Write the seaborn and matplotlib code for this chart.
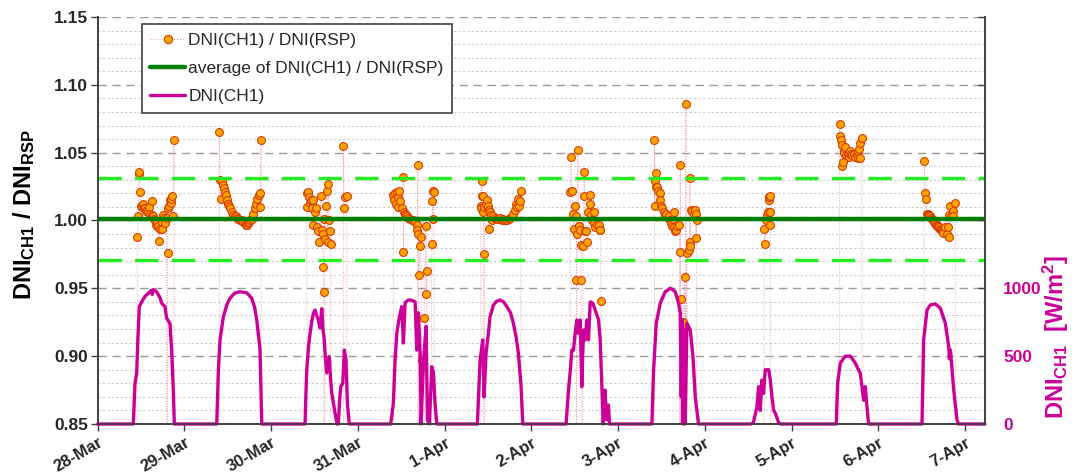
import numpy as np
import pandas as pd
import seaborn as sns
import matplotlib
matplotlib.use("Agg")
import matplotlib.pyplot as plt
from matplotlib.ticker import MultipleLocator, FixedLocator, FixedFormatter, FormatStrFormatter
from matplotlib.lines import Line2D

# ---------------- data ----------------
date_labels = ["28-Mar", "29-Mar", "30-Mar", "31-Mar", "1-Apr", "2-Apr",
               "3-Apr", "4-Apr", "5-Apr", "6-Apr", "7-Apr"]

avg_ratio = 1.001
band_upper = 1.031
band_lower = 0.971

# ratio DNI(CH1)/DNI(RSP): (days since 28-Mar 00:00, ratio); 0 = no valid value
ratio_28mar = [(0.455, 0), (0.457, 0.988), (0.470, 1.003), (0.473, 1.034), (0.480, 1.036), (0.488, 1.021),
               (0.495, 1.011), (0.507, 1.010), (0.520, 1.012), (0.530, 1.009), (0.546, 1.009), (0.555, 1.007),
               (0.565, 1.008), (0.580, 1.006), (0.595, 1.010), (0.603, 1.005), (0.623, 1.014), (0.632, 1.004),
               (0.641, 1.003), (0.650, 1.001), (0.661, 1.000), (0.670, 0.997), (0.680, 0.998), (0.690, 0.995),
               (0.699, 0.996), (0.710, 0.985), (0.720, 0.994), (0.738, 0.994), (0.745, 0.999), (0.757, 1.004),
               (0.765, 1.002), (0.776, 0.998), (0.796, 1.002), (0.805, 0), (0.807, 0.976), (0.814, 1.009),
               (0.820, 1.011), (0.834, 1.015), (0.842, 1.013), (0.848, 1.016), (0.853, 1.018), (0.865, 1.003),
               (0.880, 1.059), (0.882, 0)]
ratio_29mar = [(1.401, 0), (1.403, 1.065), (1.411, 1.030), (1.419, 1.016), (1.430, 1.029), (1.442, 1.026),
               (1.457, 1.024), (1.468, 1.021), (1.480, 1.019), (1.488, 1.015), (1.499, 1.012), (1.514, 1.011),
               (1.526, 1.009), (1.546, 1.006), (1.564, 1.004), (1.580, 1.003), (1.595, 1.003), (1.610, 1.002),
               (1.622, 1.001), (1.640, 1.000), (1.661, 1.000), (1.680, 0.999), (1.699, 0.998), (1.715, 0.997),
               (1.726, 0.997), (1.738, 0.998), (1.749, 0.999), (1.762, 1.000), (1.776, 1.001), (1.794, 1.005),
               (1.814, 1.009), (1.826, 1.012), (1.841, 1.016), (1.860, 1.019), (1.872, 1.020), (1.876, 1.010),
               (1.884, 1.059), (1.886, 0)]
ratio_30mar = [(2.409, 0), (2.411, 1.020), (2.418, 1.010), (2.429, 1.021), (2.441, 1.017), (2.449, 1.013),
               (2.457, 1.015), (2.468, 1.009), (2.480, 1.015), (2.487, 0.997), (2.506, 1.006), (2.518, 1.009),
               (2.526, 0.995), (2.544, 0.992), (2.556, 0.984), (2.572, 1.018), (2.584, 0.993), (2.595, 0.990),
               (2.602, 0.966), (2.610, 0.947), (2.612, 0), (2.614, 1.001), (2.622, 0.986), (2.633, 1.011),
               (2.641, 1.022), (2.653, 0.984), (2.660, 1.027), (2.671, 1.000), (2.679, 0.992), (2.687, 0.983),
               (2.689, 0), (2.831, 0), (2.833, 1.055), (2.841, 1.009), (2.852, 1.017), (2.872, 1.018), (2.874, 0)]
ratio_31mar = [(3.407, 0), (3.409, 1.019), (3.420, 1.015), (3.429, 1.020), (3.440, 1.012), (3.449, 1.021),
               (3.458, 1.010), (3.467, 1.017), (3.479, 1.022), (3.487, 1.014), (3.506, 1.009), (3.522, 1.032),
               (3.526, 0.977), (3.533, 1.006), (3.545, 1.005), (3.556, 1.004), (3.570, 1.003), (3.582, 1.002),
               (3.600, 1.001), (3.622, 1.000), (3.640, 1.000), (3.660, 0.999), (3.679, 0.997), (3.685, 0.993),
               (3.691, 1.041), (3.693, 0), (3.698, 0.990), (3.705, 0.960), (3.718, 0.981), (3.725, 0.988),
               (3.737, 0.897), (3.739, 0), (3.767, 0.928), (3.787, 0.996), (3.790, 0.946), (3.795, 0.963),
               (3.797, 0), (3.852, 0.983), (3.859, 1.014), (3.864, 1.001), (3.871, 1.022), (3.879, 1.021),
               (3.881, 0)]
ratio_1apr = [(4.416, 0), (4.418, 1.011), (4.425, 1.009), (4.429, 1.029), (4.435, 1.018), (4.440, 1.018),
              (4.448, 1.006), (4.450, 0.975), (4.452, 0), (4.460, 1.010), (4.475, 1.012), (4.487, 1.015),
              (4.495, 1.009), (4.505, 1.011), (4.510, 0.994), (4.517, 1.008), (4.525, 1.006), (4.533, 1.004),
              (4.544, 1.000), (4.563, 1.003), (4.580, 1.002), (4.602, 1.001), (4.620, 1.001), (4.640, 1.002),
              (4.660, 1.000), (4.679, 1.001), (4.700, 1.000), (4.717, 1.000), (4.740, 1.001), (4.755, 1.002),
              (4.775, 1.003), (4.793, 1.005), (4.813, 1.008), (4.825, 1.012), (4.840, 1.010), (4.851, 1.016),
              (4.860, 1.011), (4.871, 1.014), (4.879, 1.022), (4.881, 0)]
ratio_2apr = [(5.445, 0), (5.447, 1.021), (5.459, 1.047), (5.470, 1.022), (5.486, 1.005), (5.490, 0.994),
              (5.505, 1.011), (5.517, 1.003), (5.520, 0.956), (5.522, 0), (5.525, 0.990), (5.536, 1.052),
              (5.545, 0.996), (5.555, 0.996), (5.563, 0.993), (5.571, 0.982), (5.574, 0.956), (5.576, 0),
              (5.594, 0.981), (5.605, 1.018), (5.610, 1.036), (5.620, 0.992), (5.632, 0.992), (5.647, 0.984),
              (5.659, 1.006), (5.671, 1.019), (5.679, 1.012), (5.690, 1.004), (5.698, 1.000), (5.717, 0.998),
              (5.728, 1.006), (5.736, 0.995), (5.755, 0.997), (5.775, 0.997), (5.786, 0.993), (5.795, 0.993),
              (5.802, 0.941), (5.804, 0)]
ratio_3apr = [(6.418, 0), (6.420, 1.059), (6.424, 1.011), (6.428, 1.029), (6.434, 1.025), (6.440, 1.035),
              (6.448, 1.025), (6.466, 1.022), (6.478, 1.020), (6.486, 1.015), (6.494, 1.011), (6.505, 1.009),
              (6.524, 1.006), (6.540, 1.004), (6.555, 1.005), (6.570, 1.002), (6.582, 1.003), (6.601, 1.000),
              (6.610, 0.998), (6.621, 0.996), (6.632, 1.001), (6.640, 1.006), (6.647, 0.995), (6.659, 0.992),
              (6.668, 0.993), (6.678, 0.996), (6.708, 0.997), (6.710, 0.977), (6.712, 0), (6.717, 1.041),
              (6.720, 0), (6.728, 0.942), (6.748, 0.925), (6.766, 0.958), (6.770, 0), (6.782, 1.086),
              (6.786, 0), (6.794, 0.976), (6.813, 0.978), (6.824, 0.984), (6.828, 1.031), (6.832, 0.981),
              (6.840, 1.008), (6.851, 1.007), (6.870, 1.005), (6.883, 1.008), (6.894, 1.005), (6.897, 0.987),
              (6.905, 1.000), (6.907, 0)]
ratio_4apr = [(7.683, 0), (7.685, 0.994), (7.697, 0.983), (7.709, 1.000), (7.716, 1.004), (7.723, 1.006),
              (7.735, 1.015), (7.740, 1.017), (7.746, 1.018), (7.750, 0.997), (7.755, 1.006), (7.757, 0)]
ratio_5apr = [(8.552, 0), (8.554, 1.071), (8.556, 1.062), (8.570, 1.059), (8.581, 1.056), (8.585, 1.040),
              (8.593, 1.043), (8.600, 1.051), (8.610, 1.050), (8.620, 1.054), (8.631, 1.048), (8.646, 1.049),
              (8.657, 1.047), (8.667, 1.050), (8.677, 1.051), (8.690, 1.049), (8.697, 1.048), (8.716, 1.049),
              (8.735, 1.047), (8.755, 1.048), (8.762, 1.046), (8.766, 1.051), (8.781, 1.053), (8.785, 1.046),
              (8.793, 1.057), (8.812, 1.061), (8.814, 0)]
ratio_6apr = [(9.528, 0), (9.530, 1.044), (9.541, 1.020), (9.552, 1.016), (9.560, 1.005), (9.570, 1.005),
              (9.578, 1.004), (9.588, 1.004), (9.598, 1.003), (9.608, 1.002), (9.617, 1.001), (9.627, 1.000),
              (9.636, 1.000), (9.645, 0.999), (9.655, 0.998), (9.665, 0.997), (9.674, 0.997), (9.684, 0.996),
              (9.694, 0.995), (9.703, 0.995), (9.713, 0.994), (9.722, 0.993), (9.732, 0.993), (9.741, 0.992),
              (9.751, 0.991), (9.771, 0.995), (9.797, 0.990), (9.808, 0.995), (9.810, 1.004), (9.820, 0.988),
              (9.828, 1.011), (9.840, 1.003), (9.859, 1.007), (9.867, 1.003), (9.888, 1.013), (9.890, 0)]

# DNI(CH1) in W/m2: (days since 28-Mar 00:00, DNI)
dni_28mar = [(0.0, 0), (0.411, 0), (0.430, 300), (0.450, 374), (0.462, 600), (0.480, 865), (0.507, 900),
             (0.545, 940), (0.584, 964), (0.620, 985), (0.630, 955), (0.640, 990), (0.680, 975), (0.720, 930),
             (0.738, 890), (0.776, 865), (0.790, 800), (0.796, 780), (0.834, 740), (0.853, 545),
             (0.872, 250), (0.884, 0)]
dni_29mar = [(1.373, 0), (1.392, 400), (1.411, 620), (1.449, 790), (1.490, 880), (1.526, 927),
             (1.580, 965), (1.641, 975), (1.719, 967), (1.776, 927), (1.810, 860), (1.834, 767),
             (1.855, 650), (1.872, 545), (1.885, 200), (1.892, 0)]
dni_30mar = [(2.391, 0), (2.400, 200), (2.411, 398), (2.430, 560), (2.449, 669), (2.470, 760), (2.487, 816),
             (2.506, 840), (2.525, 800), (2.544, 767), (2.564, 708), (2.584, 850), (2.595, 710), (2.610, 640),
             (2.622, 524), (2.641, 376), (2.655, 470), (2.671, 497), (2.685, 330), (2.699, 230), (2.737, 80),
             (2.760, 0), (2.775, 0), (2.790, 180), (2.803, 275), (2.826, 300), (2.844, 545), (2.864, 470),
             (2.879, 150), (2.902, 0)]
dni_31mar = [(3.379, 0), (3.409, 150), (3.429, 470), (3.449, 669), (3.479, 790), (3.506, 865), (3.525, 597),
             (3.545, 894), (3.582, 914), (3.620, 912), (3.660, 900), (3.679, 545), (3.698, 820), (3.718, 520),
             (3.729, 0), (3.748, 325), (3.763, 520), (3.787, 720), (3.802, 30), (3.825, 0), (3.852, 423),
             (3.871, 380), (3.890, 150), (3.910, 0)]
dni_1apr = [(4.378, 0), (4.409, 470), (4.440, 620), (4.455, 200), (4.478, 520), (4.505, 669), (4.524, 790),
            (4.563, 877), (4.600, 905), (4.640, 914), (4.680, 900), (4.717, 865), (4.760, 820), (4.793, 742),
            (4.825, 640), (4.851, 520), (4.882, 275), (4.902, 0)]
dni_2apr = [(5.401, 0), (5.428, 250), (5.447, 375), (5.467, 545), (5.486, 545), (5.505, 669), (5.525, 767),
            (5.543, 669), (5.563, 767), (5.582, 275), (5.601, 693), (5.621, 620), (5.640, 767), (5.659, 620),
            (5.679, 900), (5.710, 890), (5.736, 840), (5.775, 767), (5.794, 620), (5.813, 275), (5.829, 0),
            (5.849, 250), (5.868, 30), (5.889, 140), (5.902, 0)]
dni_3apr = [(6.390, 0), (6.409, 390), (6.440, 742), (6.486, 890), (6.544, 975), (6.601, 1000), (6.620, 995),
            (6.659, 975), (6.697, 890), (6.717, 820), (6.728, 200), (6.740, 767), (6.748, 0), (6.763, 700),
            (6.774, 0), (6.794, 742), (6.813, 720), (6.832, 693), (6.863, 500), (6.890, 200), (6.928, 0)]
dni_4apr = [(7.486, 0), (7.530, 0), (7.560, 10), (7.601, 125), (7.620, 275), (7.639, 100), (7.659, 325),
            (7.678, 225), (7.697, 400), (7.736, 400), (7.755, 325), (7.774, 200), (7.794, 100), (7.813, 80),
            (7.851, 10), (7.871, 0)]
dni_5apr = [(8.516, 0), (8.531, 300), (8.562, 449), (8.620, 500), (8.678, 500), (8.735, 449), (8.793, 373),
            (8.832, 175), (8.850, 275), (8.870, 125), (8.888, 0)]
dni_6apr = [(9.504, 0), (9.523, 620), (9.562, 840), (9.600, 877), (9.658, 885), (9.716, 853), (9.773, 742),
            (9.812, 570), (9.820, 480), (9.832, 545), (9.870, 250), (9.908, 30), (9.926, 0), (10.23, 0)]

# ---------------- frames ----------------
ratio_days = [ratio_28mar, ratio_29mar, ratio_30mar, ratio_31mar, ratio_1apr, ratio_2apr,
              ratio_3apr, ratio_4apr, ratio_5apr, ratio_6apr]
dni_days = [dni_28mar, dni_29mar, dni_30mar, dni_31mar, dni_1apr, dni_2apr,
            dni_3apr, dni_4apr, dni_5apr, dni_6apr]
ratio_df = pd.DataFrame([p for d in ratio_days for p in d], columns=["t", "ratio"])
dni_df = pd.DataFrame([p for d in dni_days for p in d], columns=["t", "dni"])
valid_df = ratio_df[ratio_df["ratio"] > 0]

# ---------------- style ----------------
sns.set_theme(style="white")
plt.rcParams["font.family"] = ["Liberation Sans", "DejaVu Sans"]
plt.rcParams["mathtext.fontset"] = "custom"
plt.rcParams["mathtext.rm"] = "Liberation Sans"
plt.rcParams["mathtext.bf"] = "Liberation Sans:bold"
plt.rcParams["mathtext.it"] = "Liberation Sans:italic"

MAGENTA = "#cc0099"
PINK = "#f4a0a8"
ORANGE = "#ffa500"
ORANGE_EDGE = "#d83a00"
DKGREEN = "#008000"
LTGREEN = "#22ee22"

fig = plt.figure(figsize=(10.72, 4.73), dpi=100)
ax = fig.add_axes([0.0911, 0.1036, 0.8277, 0.8605])
ax2 = ax.twinx()

# gridlines
ax.set_ylim(0.85, 1.15)
ax.yaxis.set_major_locator(MultipleLocator(0.05))
ax.yaxis.set_minor_locator(MultipleLocator(0.01))
ax.yaxis.set_major_formatter(FormatStrFormatter("%.2f"))
ax.grid(True, axis="y", which="major", color="#9a9a9a", linestyle=(0, (6, 4)), linewidth=1.0, zorder=0)
ax.grid(True, axis="y", which="minor", color="#cccccc", linestyle=(0, (2, 2)), linewidth=0.8, zorder=0)
ax.grid(False, axis="x")

# ratio series: faint dotted connecting line + markers
sns.lineplot(data=ratio_df, x="t", y="ratio", ax=ax, estimator=None, sort=False,
             color=PINK, linewidth=0.7, linestyle=":", zorder=2)
sns.scatterplot(data=valid_df, x="t", y="ratio", ax=ax, s=32, color=ORANGE,
                edgecolor=ORANGE_EDGE, linewidth=0.8, zorder=3)

# average and +-3% band
ax.axhline(avg_ratio, color=DKGREEN, linewidth=3.2, zorder=4)
ax.axhline(band_upper, color=LTGREEN, linewidth=2.4, linestyle=(0, (7, 4)), zorder=4)
ax.axhline(band_lower, color=LTGREEN, linewidth=2.4, linestyle=(0, (7, 4)), zorder=4)

# DNI on secondary axis
sns.lineplot(data=dni_df, x="t", y="dni", ax=ax2, estimator=None, sort=False,
             color=MAGENTA, linewidth=2.4, clip_on=False)

# x axis
ax.set_xlim(0, 10.23)
ax.xaxis.set_major_locator(FixedLocator(range(len(date_labels))))
ax.xaxis.set_major_formatter(FixedFormatter(date_labels))
for lbl in ax.get_xticklabels():
    lbl.set_rotation(30)
    lbl.set_ha("right")
    lbl.set_rotation_mode("anchor")
    lbl.set_fontweight("bold")
    lbl.set_fontsize(12)
ax.tick_params(axis="x", which="major", direction="out", length=5, width=1, color="#404040", pad=3, bottom=True)
ax.set_xlabel("")

# left axis
ax.tick_params(axis="y", which="major", direction="out", length=5, width=1, color="#404040",
               labelsize=12.5, pad=2, left=True)
ax.tick_params(axis="y", which="minor", left=False)
for lbl in ax.get_yticklabels():
    lbl.set_fontweight("bold")
ax.set_ylabel(r"DNI$_{\mathbf{CH1}}$ / DNI$_{\mathbf{RSP}}$", fontsize=17, fontweight="bold", color="black")
ax.yaxis.set_label_coords(-0.068, 0.515)

# right axis
ax2.set_ylim(0, 3000)
ax2.yaxis.set_major_locator(FixedLocator([0, 500, 1000, 1500, 2000, 2500, 3000]))
ax2.yaxis.set_major_formatter(FixedFormatter(["0", "500", "1000", "", "", "", ""]))
ax2.tick_params(axis="y", which="major", direction="in", length=5, width=1, color="#404040",
                labelsize=12.5, labelcolor=MAGENTA, pad=13, right=True)
for lbl in ax2.get_yticklabels():
    lbl.set_fontweight("bold")
ax2.set_ylabel(r"DNI$_{\mathbf{CH1}}$  [W/m$^{\mathbf{2}}$]", fontsize=17, fontweight="bold", color=MAGENTA)
ax2.yaxis.set_label_coords(1.063, 0.215)
ax2.grid(False)

for a in (ax, ax2):
    a.spines["top"].set_visible(False)
    for s in ("left", "right", "bottom"):
        a.spines[s].set_color("#404040")
        a.spines[s].set_linewidth(1.2)

# legend
handles = [
    Line2D([], [], color=PINK, linestyle=":", linewidth=0.8, marker="o", markersize=6,
           markerfacecolor=ORANGE, markeredgecolor=ORANGE_EDGE, markeredgewidth=0.8),
    Line2D([], [], color=DKGREEN, linewidth=3.2),
    Line2D([], [], color=MAGENTA, linewidth=2.4),
]
labels = ["DNI(CH1) / DNI(RSP)", "average of DNI(CH1) / DNI(RSP)", "DNI(CH1)"]
leg = ax.legend(handles, labels, loc="upper left", bbox_to_anchor=(0.0495, 0.982), fontsize=12.5,
                frameon=True, fancybox=False, shadow=False, framealpha=1, edgecolor="#404040",
                handlelength=2.0, handletextpad=0.2, labelspacing=0.75, borderpad=0.5,
                borderaxespad=0.0)
leg.get_frame().set_linewidth(1.2)
leg.set_zorder(10)

fig.savefig("out.png", dpi=100)
